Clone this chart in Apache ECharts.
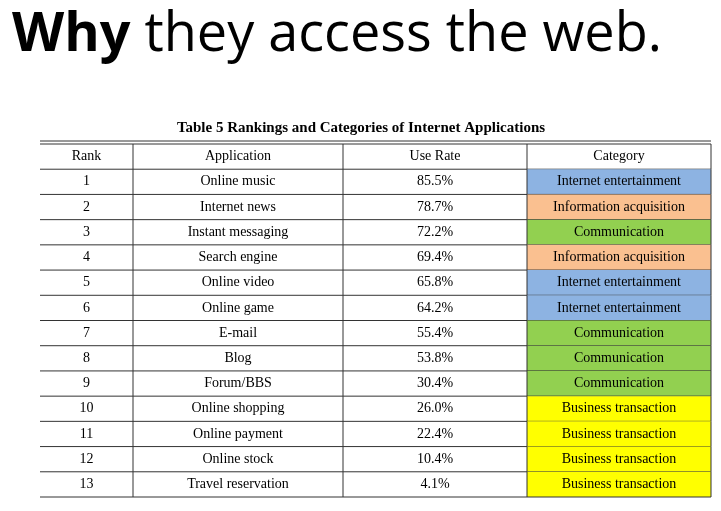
<!DOCTYPE html>
<html>
<head>
<meta charset="utf-8">
<script src="https://cdn.jsdelivr.net/npm/echarts@6/dist/echarts.min.js"></script>
<style>
  html, body { margin: 0; padding: 0; background: #fff; }
  #main { width: 721px; height: 511px; }
</style>
</head>
<body>
<div id="main"></div>
<script>
// table data
var headers = ['Rank', 'Application', 'Use Rate', 'Category'];
var ranks = ['1','2','3','4','5','6','7','8','9','10','11','12','13'];
var applications = ['Online music','Internet news','Instant messaging','Search engine','Online video','Online game','E-mail','Blog','Forum/BBS','Online shopping','Online payment','Online stock','Travel reservation'];
var useRates = ['85.5%','78.7%','72.2%','69.4%','65.8%','64.2%','55.4%','53.8%','30.4%','26.0%','22.4%','10.4%','4.1%'];
var categories = ['Internet entertainment','Information acquisition','Communication','Information acquisition','Internet entertainment','Internet entertainment','Communication','Communication','Communication','Business transaction','Business transaction','Business transaction','Business transaction'];

var catColors = {
  'Internet entertainment': '#8db3e2',
  'Information acquisition': '#fac090',
  'Communication': '#92d050',
  'Business transaction': '#ffff00'
};
// column edges in axis units (px width of table)
var colEdges = [0, 93, 303, 487, 671];

var rowNames = ['h'].concat(ranks);
var columns = [ranks, applications, useRates, categories];

var cells = [];
for (var r = 0; r < rowNames.length; r++) {
  for (var c = 0; c < 4; c++) {
    cells.push([c, r]);
  }
}

function cellText(c, r) {
  if (r === 0) return headers[c];
  return columns[c][r - 1];
}

var myChart = echarts.init(document.getElementById('main'));

var option = {
  animation: false,
  graphic: [
    {
      type: 'text', left: 12, top: 9,
      style: {
        text: '{r|Why} they access the web.',
        font: '54px "Open Sans"', fill: '#000',
        rich: { r: { fontWeight: 'bold', fontSize: 54, fontFamily: 'Open Sans', color: '#c00000' } }
      }
    },
    {
      type: 'text', x: 361, y: 128,
      style: {
        text: 'Table 5 Rankings and Categories of Internet Applications',
        font: 'bold 15px "Liberation Serif"', fill: '#000',
        align: 'center', verticalAlign: 'middle'
      }
    }
  ],
  grid: { left: 40, right: 10, top: 144, bottom: 14 },
  xAxis: { type: 'value', min: 0, max: 671, show: false },
  yAxis: { type: 'category', data: rowNames, inverse: true, show: false },
  series: [{
    type: 'custom',
    data: cells,
    renderItem: function (params, api) {
      var c = api.value(0), r = api.value(1);
      var center = api.coord([0, r]);
      var h = api.size([0, 1])[1];
      var p0 = api.coord([colEdges[c], r]);
      var p1 = api.coord([colEdges[c + 1], r]);
      var y0 = center[1] - h / 2;
      var fill = (r > 0 && c === 3) ? catColors[categories[r - 1]] : 'transparent';
      var children = [
        { type: 'rect', shape: { x: p0[0], y: y0, width: p1[0] - p0[0], height: h },
          style: { fill: fill, stroke: null } },
        { type: 'line', shape: { x1: p0[0], y1: y0 + h, x2: p1[0], y2: y0 + h },
          style: { stroke: '#333', lineWidth: 1 } },
        { type: 'text', x: (p0[0] + p1[0]) / 2, y: center[1],
          style: { text: cellText(c, r), font: '14px "Liberation Serif"', fill: '#000',
                   align: 'center', verticalAlign: 'middle' } }
      ];
      if (c > 0) {
        children.push({ type: 'line', shape: { x1: p0[0], y1: y0, x2: p0[0], y2: y0 + h },
          style: { stroke: '#333', lineWidth: 1 } });
      }
      if (c === 3) {
        children.push({ type: 'line', shape: { x1: p1[0], y1: y0, x2: p1[0], y2: y0 + h },
          style: { stroke: '#333', lineWidth: 1 } });
      }
      if (r === 0) {
        children.push({ type: 'line', shape: { x1: p0[0], y1: y0, x2: p1[0], y2: y0 },
          style: { stroke: '#333', lineWidth: 1 } });
        children.push({ type: 'line', shape: { x1: p0[0], y1: y0 - 3, x2: p1[0], y2: y0 - 3 },
          style: { stroke: '#333', lineWidth: 1 } });
      }
      return { type: 'group', children: children };
    }
  }]
};

myChart.setOption(option);
</script>
</body>
</html>
